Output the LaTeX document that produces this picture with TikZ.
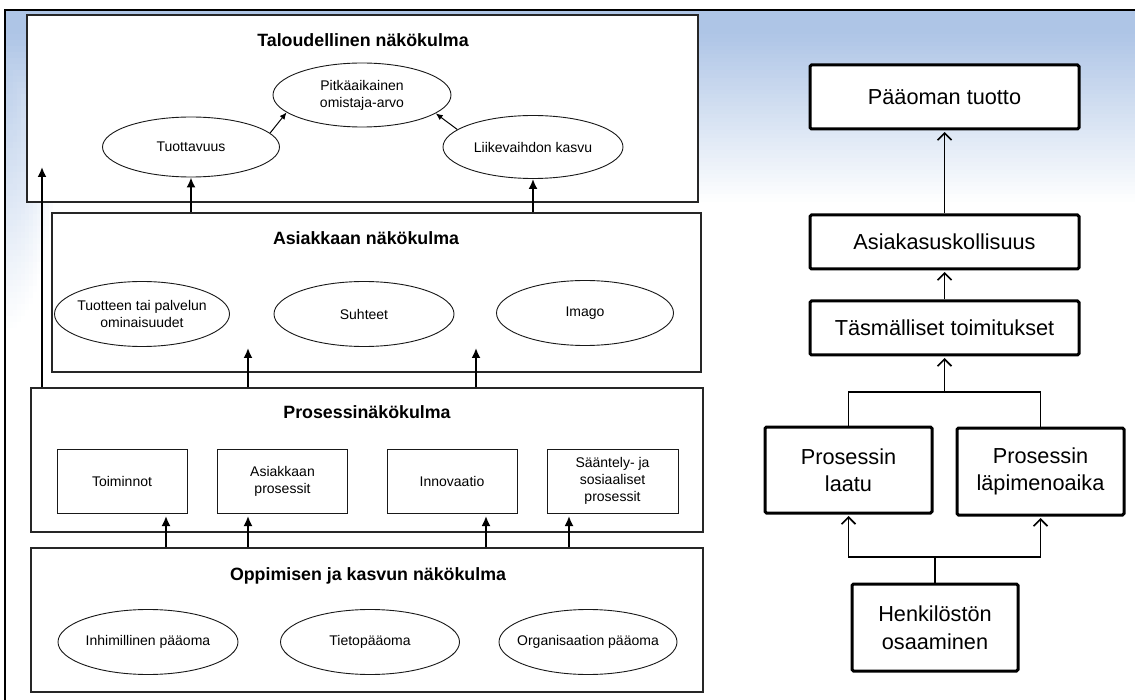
\documentclass[tikz,border=0pt]{standalone}
\usepackage{fontspec}
\setmainfont{Liberation Sans}
\usetikzlibrary{arrows.meta,shapes.geometric}
\definecolor{bgblue}{RGB}{174,197,230}
\begin{document}
\begin{tikzpicture}[x=1pt,y=-1pt,
 panel/.style={rectangle, draw=black!85, line width=1.2pt, fill=white, inner sep=0pt},
 ptitle/.style={font=\bfseries\fontsize{17.8}{21}\selectfont, inner sep=0pt, anchor=base},
 ell/.style={ellipse, draw=black!90, line width=0.9pt, fill=white, inner xsep=-10pt, inner ysep=0pt,
   font=\fontsize{14}{17}\selectfont, align=center},
 pbox/.style={rectangle, draw=black!90, line width=1pt, fill=white, inner sep=0pt,
   font=\fontsize{14}{17}\selectfont, align=center, minimum width=130pt, minimum height=64pt},
 bigarrow/.style={-{Latex[length=10pt,width=9pt]}, line width=1.8pt},
 smallarrow/.style={-{Latex[length=7pt,width=6pt]}, line width=1pt},
 rbox/.style={rectangle, draw, line width=3pt, fill=white, inner sep=0pt, rounded corners=1.5pt,
   font=\fontsize{21.7}{27.5}\selectfont, align=center},
 rline/.style={line width=1.6pt},
 rarrow/.style={rline, -{Straight Barb[length=7pt,width=14pt]}, shorten >=1.5pt},
]
\useasboundingbox (0,0) rectangle (1135,700);
% background: top fade
\foreach \yy in {10,14,...,198}{
  \pgfmathtruncatemacro\p{max(0,min(100,(202-\yy)/1.7))}
  \fill[bgblue!\p!white] (5,\yy) rectangle (1135,\yy+4.4);
}
% background: left fade
\foreach \xx in {5,9,...,69}{
  \foreach \yy in {10,16,...,340}{
    \pgfmathsetmacro\pt{max(0,min(100,(202-\yy)/1.7))}
    \pgfmathsetmacro\pl{max(0,100*(1-sqrt(((\xx-5)/60)^2+((\yy-10)/320)^2)))}
    \pgfmathtruncatemacro\p{max(\pt,\pl)}
    \fill[bgblue!\p!white] (\xx,\yy) rectangle (\xx+4.4,\yy+6.4);
  }
}
\draw[line width=2pt] (1135,10) -- (5,10) -- (5,700);

% ---------- left diagram: panels
\node[panel, minimum width=671pt, minimum height=187pt] (talo) at (362.5,108.5) {};
\node[panel, minimum width=649pt, minimum height=159pt] (asia) at (376.5,292.5) {};
\node[panel, minimum width=672pt, minimum height=144pt] (pros) at (367,460) {};
\node[panel, minimum width=672pt, minimum height=144pt] (oppi) at (367,620) {};

\node[ptitle] (taloT) at (363,46.5) {Taloudellinen näkökulma};
\node[ptitle] (asiaT) at (366,245) {Asiakkaan näkökulma};
\node[ptitle] (prosT) at (367,418.5) {Prosessinäkökulma};
\node[ptitle] (oppiT) at (368,580) {Oppimisen ja kasvun näkökulma};

% ellipses
\node[ell, minimum width=178pt, minimum height=64pt] (pitka) at (362,95) {Pitkäaikainen\\omistaja-arvo};
\node[ell, minimum width=177pt, minimum height=60pt] (tuott) at (191,147) {Tuottavuus};
\node[ell, minimum width=180pt, minimum height=63pt] (liike) at (533,147) {Liikevaihdon kasvu};
\node[ell, minimum width=175pt, minimum height=65pt] (omin) at (142,314) {Tuotteen tai palvelun\\ominaisuudet};
\node[ell, minimum width=180pt, minimum height=65pt] (suht) at (364,314) {Suhteet};
\node[ell, minimum width=177pt, minimum height=65pt] (imago) at (585,313) {Imago};
\node[ell, minimum width=180pt, minimum height=65pt] (inhim) at (148,642) {Inhimillinen pääoma};
\node[ell, minimum width=179pt, minimum height=65pt] (tieto) at (370,642) {Tietopääoma};
\node[ell, minimum width=178pt, minimum height=65pt] (org) at (588,642) {Organisaation pääoma};

% process boxes
\node[pbox] (toim) at (122,481) {Toiminnot};
\node[pbox] (asp) at (282.5,481) {Asiakkaan\\prosessit};
\node[pbox] (innov) at (452,481) {Innovaatio};
\node[pbox, minimum width=131pt] (saant) at (612.5,481) {Sääntely- ja\\sosiaaliset\\prosessit};

% arrows left
\draw[smallarrow] (tuott.10) -- (pitka.193);
\draw[smallarrow] (liike.167) -- (pitka.346);
\draw[bigarrow] (tuott.south |- asia.north) -- (tuott.south);
\draw[bigarrow] (liike.south |- asia.north) -- (liike.south);
\coordinate (a1) at (248,348);
\coordinate (a2) at (476,348);
\draw[bigarrow] (a1 |- pros.north) -- (a1);
\draw[bigarrow] (a2 |- pros.north) -- (a2);
\coordinate (ltip) at (42,167);
\draw[bigarrow] (ltip |- pros.north) -- (ltip);
\coordinate (b1) at (166,516);
\coordinate (b2) at (248,516);
\coordinate (b3) at (486,516);
\coordinate (b4) at (569,516);
\foreach \b in {b1,b2,b3,b4}{
  \draw[bigarrow] (\b |- oppi.north) -- (\b);
}

% ---------- right diagram
\node[rbox, minimum width=269pt, minimum height=64pt] (paa) at (944.5,97) {Pääoman tuotto};
\node[rbox, minimum width=269pt, minimum height=54pt] (asuk) at (944.5,242) {Asiakasuskollisuus};
\node[rbox, minimum width=269pt, minimum height=54pt] (tasm) at (944.5,328) {Täsmälliset toimitukset};
\node[rbox, minimum width=167pt, minimum height=86pt] (laatu) at (848.5,470) {Prosessin\\laatu};
\node[rbox, minimum width=167pt, minimum height=87pt] (lapi) at (1040.5,471.5) {Prosessin\\läpimenoaika};
\node[rbox, minimum width=166pt, minimum height=87pt] (henk) at (935,627.5) {Henkilöstön\\osaaminen};

\draw[rarrow] (asuk.north) -- (paa.south);
\draw[rarrow] (tasm.north) -- (asuk.south);
\coordinate (j1) at (944.5,392);
\draw[rline] (laatu.north) |- (j1) -| (lapi.north);
\draw[rarrow] (j1) -- (tasm.south);
\coordinate (j2) at (935,557);
\draw[rline] (henk.north) -- (j2);
\draw[rarrow] (j2) -| (laatu.south);
\draw[rarrow] (j2) -| (lapi.south);
\end{tikzpicture}
\end{document}
